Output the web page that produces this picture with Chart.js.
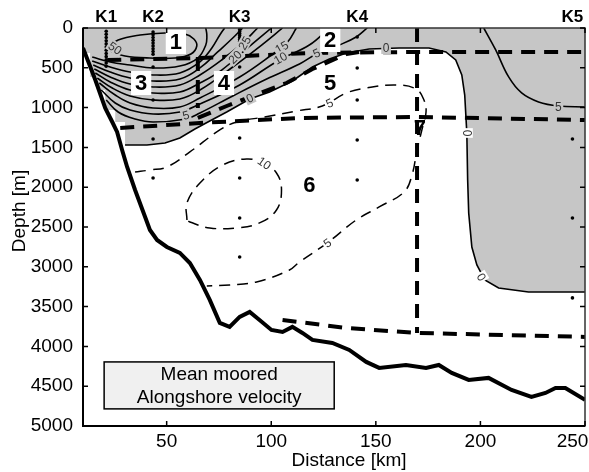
<!DOCTYPE html>
<html>
<head>
<meta charset="utf-8">
<title>Mean moored alongshore velocity</title>
<script src="https://cdn.jsdelivr.net/npm/chart.js@4.4.0/dist/chart.umd.min.js"></script>
<style>
  html, body { margin: 0; padding: 0; background: #fff; }
</style>
</head>
<body>
<canvas id="section" width="589" height="472"></canvas>
<script>
// axis ticks
const xTicks = [50, 100, 150, 200, 250];
const yTicks = [0, 500, 1000, 1500, 2000, 2500, 3000, 3500, 4000, 4500, 5000];

// moorings: position along the section [km] and instrument depths [m]
const mooringNames = ['K1', 'K2', 'K3', 'K4', 'K5'];
const mooringKm = [21.1, 43.5, 84.9, 141.1, 244];
const k1Depth = [40, 80, 120, 160, 200, 240, 280, 320, 360, 400, 440, 480];
const k2Depth = [50, 85, 120, 155, 190, 225, 260, 295, 330, 490, 904, 1394, 1884];
const k3Depth = [20, 45, 70, 95, 120, 145, 170, 195, 220, 490, 1382, 1884, 2386, 2876];
const k4Depth = [113, 502, 904, 1407, 1909];
const k5Depth = [1394, 2386, 3391];
const extraInstrument = [[169.7, 1495]];

// seafloor [km, m]
const seafloor = [[10, 250], [15.9, 653], [20.6, 1005], [24, 1181], [26.3, 1306], [28.7, 1532],
  [31.1, 1746], [34.9, 2035], [39.7, 2374], [42, 2537], [45.4, 2663], [50.1, 2751], [56.3, 2826],
  [61.1, 2952], [65.9, 3165], [70.6, 3416], [75.4, 3705], [80.1, 3755], [84.9, 3630], [89.7, 3567],
  [94.4, 3668], [100.1, 3793], [105.4, 3818], [110.1, 3755], [114.9, 3831], [119.7, 3919],
  [129.2, 3956], [137.3, 4044], [145.4, 4195], [151.6, 4270], [164.4, 4233], [174, 4270],
  [180.1, 4233], [186.3, 4333], [194.4, 4421], [203.9, 4396], [214.9, 4547], [224.4, 4635],
  [231.1, 4585], [235.9, 4522], [240.6, 4522], [250, 4672]];

// velocity contours [cm/s], positive (solid)
const c0 = [[30.1, 1470], [40.6, 1470], [49.2, 1444], [56.3, 1382], [63.5, 1269], [70.6, 1168],
  [78.7, 1055], [89.7, 892], [99.2, 804], [110.1, 666], [119.7, 490], [127.8, 389], [135.9, 314],
  [146.8, 264], [161.1, 251], [175.4, 251], [183.5, 301], [188.2, 402], [191.1, 590], [192.5, 842],
  [193.5, 1319], [193.9, 1909], [194.4, 2324], [195.9, 2751], [198.3, 2977], [202.1, 3165],
  [208.7, 3266], [223, 3316], [250, 3316]];
const c5 = [[21.1, 904], [26.8, 1055], [34.9, 1143], [43.5, 1181], [59.2, 1143], [65.9, 1068],
  [81.6, 854], [97.8, 641], [113.5, 452], [121.6, 327], [132.5, 214], [140.6, 113], [145.9, 0]];
const c10 = [[18.7, 779], [25.4, 942], [32.5, 1030], [43.5, 1080], [56.3, 1055], [65.9, 955],
  [84.9, 716], [103.9, 402], [118.2, 214], [127.8, 0]];
const c15 = [[17.8, 691], [25.4, 842], [32.5, 942], [43.5, 1005], [56.3, 992], [65.9, 879],
  [84.9, 615], [100.1, 339], [107.8, 176], [112, 0]];
const c20 = [[16.8, 628], [24, 754], [32.5, 854], [43.5, 904], [56.3, 892], [65.9, 779],
  [81.6, 490], [95.4, 214], [105.4, 0]];
const c25 = [[15.9, 565], [23, 678], [32.5, 779], [43.5, 816], [56.3, 804], [65.9, 691],
  [76.3, 528], [88.7, 251], [100.1, 0]];
const c30 = [[15.4, 515], [23, 615], [32.5, 703], [43.5, 741], [56.3, 716], [65.9, 590],
  [76.3, 402], [86.3, 188], [93.5, 0]];
const c35 = [[14.9, 465], [23, 553], [32.5, 628], [43.5, 666], [56.3, 641], [65.9, 502],
  [74.4, 301], [81.6, 126], [86.3, 0]];
const c40 = [[14.4, 414], [23, 490], [32.5, 553], [43.5, 590], [56.3, 565], [65.9, 427],
  [71.6, 251], [75.4, 88], [77.7, 0]];
const c45 = [[14.4, 364], [23, 427], [32.5, 465], [43.5, 502], [56.3, 477], [64.9, 377],
  [68.7, 214], [69.2, 88], [68.7, 0]];
const c50 = [[22, 251], [26.8, 151], [37.3, 88], [49.2, 63], [58.7, 75], [63, 138], [64.4, 226],
  [61.6, 327], [54, 377], [42, 377], [30.1, 352], [24, 301], [22, 251]];
const c5east = [[201.6, 0], [207.3, 276], [213.5, 615], [219.7, 816], [227.8, 929], [237.3, 980], [250, 992]];

// negative contours (dashed)
const cMinus5 = [[34.9, 1809], [42, 1784], [50.1, 1746], [61.1, 1557], [75.4, 1281], [83.5, 1181],
  [96.8, 1118], [112, 1043], [124.4, 980], [135.9, 816], [145.4, 754], [159.7, 716], [169.2, 766],
  [173, 904], [174, 1055], [172, 1281], [169.7, 1532], [167.3, 1846], [163.5, 2060], [151.6, 2248],
  [140.6, 2412], [126.8, 2700], [113.5, 2939], [108.7, 3040], [93, 3190], [80.1, 3228], [69.2, 3241]];
const cMinus10 = [[59.7, 2412], [59.7, 2198], [65.9, 1947], [76.8, 1721], [88.2, 1645], [95.9, 1696],
  [102.5, 1821], [104.9, 2035], [102.5, 2286], [94.4, 2449], [83.5, 2512], [70.6, 2512], [61.1, 2437],
  [59.7, 2412]];

// stepped inshore edge of the gridded field
const slopeSteps = [[10, 0], [10, 314], [13.4, 314], [13.4, 616], [17.3, 616], [17.3, 779],
  [20.6, 779], [20.6, 1030], [25.4, 1030], [25.4, 1181], [30.1, 1181]];

// box boundaries
const boxTop = [[21.6, 402], [65.9, 377], [118.2, 314], [169.7, 301], [250, 301]];
const boxSplit34 = [[64.9, 364], [64.9, 1005]];
const boxMid = [[27.8, 1256], [65.9, 1193], [113.5, 1130], [169.7, 1118], [250, 1156]];
const boxSlope = [[64.9, 1130], [78.7, 980], [89.7, 867], [107.3, 691], [119.7, 515], [135.9, 327], [142, 301]];
const boxSplit67 = [[169.7, 0], [169.7, 3831]];
const boxBottom = [[105.4, 3668], [135.9, 3768], [169.7, 3831], [250, 3881]];

// labels: text, km, depth, angle, background
const contourLabels = [
  ['50', 25.4, 251, 35, '#c6c6c6'],
  ['25', 87.2, 188, -60, '#c6c6c6'],
  ['20', 82.6, 364, -45, '#c6c6c6'],
  ['15', 104.9, 239, -30, '#c6c6c6'],
  ['10', 104.4, 377, -30, '#c6c6c6'],
  ['5', 59.2, 1093, -15, '#c6c6c6'],
  ['5', 121.6, 314, -25, '#c6c6c6'],
  ['0', 89.7, 880, -25, '#c6c6c6'],
  ['0', 154.9, 251, 0, '#c6c6c6'],
  ['0', 193.5, 1319, 90, '#ffffff'],
  ['0', 200.6, 3127, 60, '#ffffff'],
  ['5', 237.3, 992, 0, '#c6c6c6'],
  ['5', 127.8, 942, -25, '#ffffff'],
  ['5', 126.8, 2700, -35, '#ffffff'],
  ['10', 96.8, 1696, 35, '#ffffff']
];
const regionLabels = [
  ['1', 54.4, 176, true], ['2', 128.2, 151, true], ['3', 37.8, 691, true], ['4', 77.4, 691, true],
  ['5', 128.2, 691, false], ['6', 118.2, 1972, false], ['7', 171.1, 1256, false]
];

const FONT = 'Arial, "Liberation Sans", Helvetica, sans-serif';
Chart.defaults.font.family = FONT;
Chart.defaults.color = '#000';

const toPts = arr => arr.map(([x, y]) => ({ x, y }));
const curve = (arr, opts) => Object.assign({
  data: toPts(arr), showLine: true, pointRadius: 0, borderColor: '#000',
  backgroundColor: 'rgba(0,0,0,0)', fill: false, tension: 0, borderWidth: 1.6, order: 40
}, opts);

const instruments = [];
[k1Depth, k2Depth, k3Depth, k4Depth, k5Depth].forEach((depths, i) => {
  depths.forEach(d => instruments.push([mooringKm[i], d]));
});
extraInstrument.forEach(p => instruments.push(p));

const thinDash = [11, 7];
const thickDash = [14, 9];

const datasets = [
  curve([...slopeSteps, ...c0, [250, 0]], {
    fill: 'shape', backgroundColor: '#c6c6c6', borderColor: 'rgba(0,0,0,0)', borderWidth: 1, order: 50
  }),
  curve(c0),
  ...[c5, c10, c15, c20, c25, c30, c35, c40, c45, c50, c5east].map(c => curve(c, { tension: 0.4 })),
  curve(cMinus5, { tension: 0.4, borderDash: thinDash, borderWidth: 1.5 }),
  curve(cMinus10, { tension: 0.4, borderDash: thinDash, borderWidth: 1.5 }),
  ...[boxTop, boxSplit34, boxMid, boxSlope, boxSplit67, boxBottom].map(c =>
    curve(c, { borderWidth: 4, borderDash: thickDash, order: 30 })),
  curve(seafloor, { borderWidth: 4, order: 20 }),
  {
    data: toPts(instruments), showLine: false, pointRadius: 1.8, pointBorderWidth: 0,
    backgroundColor: '#000', borderColor: '#000', order: 10
  }
];

const decor = {
  id: 'decor',
  afterDatasetsDraw(chart) {
    const { ctx, chartArea: a, scales: { x, y } } = chart;
    const px = v => x.getPixelForValue(v);
    const py = v => y.getPixelForValue(v);
    ctx.save();

    // contour values
    ctx.font = '12px ' + FONT;
    ctx.textAlign = 'center';
    ctx.textBaseline = 'middle';
    contourLabels.forEach(([t, km, d, rot, bg]) => {
      ctx.save();
      ctx.translate(px(km), py(d));
      ctx.rotate(rot * Math.PI / 180);
      const w = ctx.measureText(t).width + 3;
      ctx.fillStyle = bg;
      ctx.fillRect(-w / 2, -6, w, 12);
      ctx.fillStyle = '#333';
      ctx.fillText(t, 0, 1);
      ctx.restore();
    });

    // region numbers
    ctx.font = 'bold 22px ' + FONT;
    regionLabels.forEach(([t, km, d, boxed]) => {
      const cx = px(km), cy = py(d);
      if (boxed) {
        const w = ctx.measureText(t).width + 8;
        ctx.fillStyle = '#fff';
        ctx.fillRect(cx - w / 2, cy - 12, w, 24);
      }
      ctx.fillStyle = '#000';
      ctx.fillText(t, cx, cy + 1);
    });

    // legend box
    const bx0 = px(20.1), bx1 = px(130.1), by0 = py(4195), by1 = py(4785);
    ctx.fillStyle = '#f0f0f0';
    ctx.fillRect(bx0, by0, bx1 - bx0, by1 - by0);
    ctx.strokeStyle = '#000';
    ctx.lineWidth = 1.5;
    ctx.strokeRect(bx0, by0, bx1 - bx0, by1 - by0);
    ctx.fillStyle = '#000';
    ctx.font = '19px ' + FONT;
    ctx.fillText('Mean moored', (bx0 + bx1) / 2, by0 + 13);
    ctx.fillText('Alongshore velocity', (bx0 + bx1) / 2, by0 + 36);

    // frame with inward ticks
    ctx.lineWidth = 1.5;
    ctx.strokeStyle = '#333';
    ctx.strokeRect(a.left, a.top, a.right - a.left, a.bottom - a.top);
    ctx.strokeStyle = '#000';
    ctx.lineWidth = 2;
    ctx.beginPath();
    ctx.moveTo(a.left, a.top); ctx.lineTo(a.left, a.bottom); ctx.lineTo(a.right, a.bottom);
    ctx.stroke();
    ctx.lineWidth = 1.5;
    ctx.beginPath();
    xTicks.forEach(v => {
      const p = px(v);
      ctx.moveTo(p, a.bottom); ctx.lineTo(p, a.bottom - 5);
      ctx.moveTo(p, a.top); ctx.lineTo(p, a.top + 5);
    });
    yTicks.forEach(v => {
      const p = py(v);
      ctx.moveTo(a.left, p); ctx.lineTo(a.left + 5, p);
      ctx.moveTo(a.right, p); ctx.lineTo(a.right - 5, p);
    });
    ctx.stroke();

    // axis titles
    ctx.font = '19px ' + FONT;
    ctx.fillText('Distance [km]', 349, 461);
    ctx.translate(20, 211);
    ctx.rotate(-Math.PI / 2);
    ctx.fillText('Depth [m]', 0, 0);
    ctx.restore();
  }
};

const fixTicks = list => axis => { axis.ticks = list.map(v => ({ value: v })); };
const noPad = size => axis => {
  if (axis.isHorizontal()) axis.height = size; else axis.width = size;
  axis.paddingLeft = axis.paddingRight = axis.paddingTop = axis.paddingBottom = 0;
};

new Chart(document.getElementById('section'), {
  type: 'scatter',
  data: { datasets },
  options: {
    responsive: false,
    animation: false,
    layout: { padding: { left: 0, right: 2, top: 0, bottom: 0 } },
    plugins: { legend: { display: false }, tooltip: { enabled: false } },
    scales: {
      x: {
        type: 'linear', min: 10, max: 250,
        afterBuildTicks: fixTicks(xTicks),
        afterFit: noPad(46),
        grid: { display: false, drawTicks: false },
        border: { display: false },
        ticks: {
          font: { size: 19 }, padding: 4, maxRotation: 0, autoSkip: false,
          // last label sits inside the frame edge
          callback: v => v === 250 ? '250\u2007\u2007\u2009' : String(v)
        }
      },
      k: {
        type: 'linear', position: 'top', min: 10, max: 250,
        afterBuildTicks: fixTicks(mooringKm),
        afterFit: noPad(28),
        grid: { display: false, drawTicks: false },
        border: { display: false },
        ticks: {
          font: { size: 17, weight: 'bold' }, padding: 0, maxRotation: 0, autoSkip: false,
          callback: (v, i) => mooringNames[i]
        }
      },
      y: {
        type: 'linear', reverse: true, min: 0, max: 5000,
        afterBuildTicks: fixTicks(yTicks),
        afterFit: noPad(83),
        grid: { display: false, drawTicks: false },
        border: { display: false },
        ticks: { font: { size: 19 }, padding: 10, autoSkip: false, callback: v => String(v) }
      }
    }
  },
  plugins: [decor]
});
</script>
</body>
</html>
